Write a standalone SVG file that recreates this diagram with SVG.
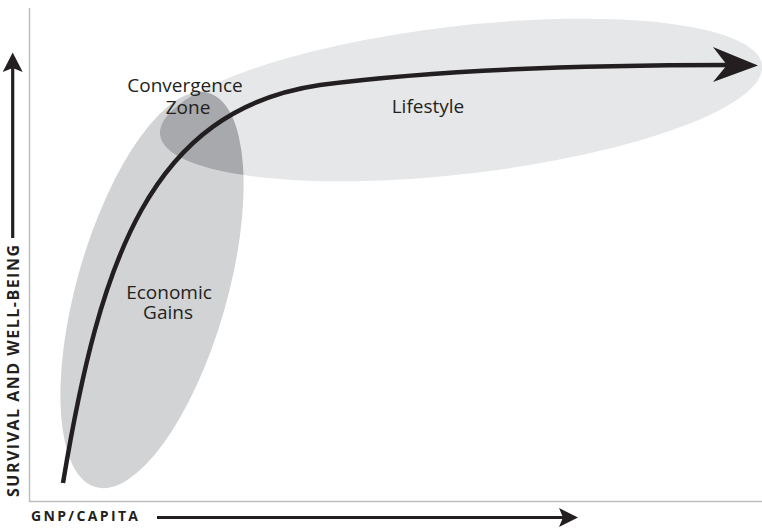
<svg xmlns="http://www.w3.org/2000/svg" width="762" height="528" viewBox="0 0 762 528">
<style>
.lbl{font-family:"Open Sans","Noto Sans",sans-serif;font-size:19px;fill:#231f20;text-anchor:middle}
.ax{font-family:"Open Sans","Noto Sans",sans-serif;font-weight:bold;fill:#231f20}
.frame{stroke:#bcbec0;stroke-width:1.5;fill:none}
</style>
<defs>
<clipPath id="lifeClip"><ellipse cx="461" cy="100" rx="303" ry="74" transform="rotate(-6.6 461 100)"/></clipPath>
</defs>
<rect width="762" height="528" fill="#fff"/>
<g id="frame">
<path class="frame" d="M29.5,8 V501.5 H762"/>
</g>
<g id="economic-gains">
<ellipse cx="152" cy="290" rx="75" ry="205" transform="rotate(16 152 290)" fill="#d1d3d4"/>
</g>
<g id="lifestyle">
<ellipse cx="461" cy="100" rx="303" ry="74" transform="rotate(-6.6 461 100)" fill="#e6e7e8"/>
</g>
<g id="convergence-zone" clip-path="url(#lifeClip)">
<ellipse cx="152" cy="290" rx="75" ry="205" transform="rotate(16 152 290)" fill="#a7a9ac"/>
</g>
<g id="labels">
<text class="lbl" x="185" y="92">Convergence</text>
<text class="lbl" x="188" y="114">Zone</text>
<text class="lbl" x="428" y="113">Lifestyle</text>
<text class="lbl" x="169" y="299">Economic</text>
<text class="lbl" x="168" y="319">Gains</text>
</g>
<g id="connectors">
<path d="M63,483 C100,260 150,110 320,85 C450,68 600,65 728,65" fill="none" stroke="#231f20" stroke-width="4.5"/>
<polygon points="758,65.5 713,47 727,65 713,82" fill="#231f20"/>
<line x1="12.7" y1="238" x2="12.7" y2="66" stroke="#231f20" stroke-width="3.2"/>
<polygon points="12.7,52.5 22.7,72 12.7,68 2.7,72" fill="#231f20"/>
<line x1="157" y1="517.5" x2="564" y2="517.5" stroke="#231f20" stroke-width="3"/>
<polygon points="578,517.5 559,508 563,517.5 559,527" fill="#231f20"/>
</g>
<g id="axis-labels">
<text class="ax" font-size="16" transform="translate(19,371) rotate(-90)" text-anchor="middle" textLength="252" lengthAdjust="spacing">SURVIVAL AND WELL-BEING</text>
<text class="ax" font-size="14" x="31" y="521" textLength="107" lengthAdjust="spacing">GNP/CAPITA</text>
</g>
</svg>
